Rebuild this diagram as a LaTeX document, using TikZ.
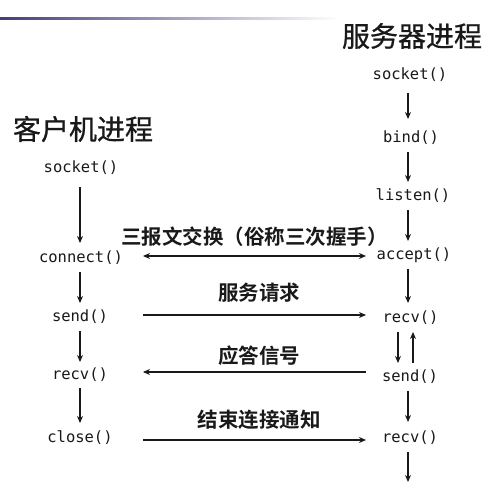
\documentclass[tikz,border=0pt]{standalone}
\usepackage{fontspec}
\newfontfamily\cjk{Noto Sans CJK SC}[FakeBold=0.8]
\newfontfamily\cjkb{Noto Sans CJK SC Bold}
\newfontfamily\mono{DejaVu Sans Mono}
\usetikzlibrary{arrows.meta,calc}
\definecolor{barpurple}{HTML}{4A3A7E}
\tikzset{
  fn/.style={inner sep=0pt, font=\mono\fontsize{15.5}{18}\selectfont, text=black!90},
  head/.style={inner sep=0pt, font=\cjk\fontsize{28}{32}\selectfont, text=black!90},
  lab/.style={inner sep=0pt, font=\cjkb\fontsize{20.5}{24}\selectfont, text=black!90},
  arr/.style={-{Stealth[length=7pt,width=6pt]}, line width=1.4pt, black!90},
  darr/.style={{Stealth[length=7pt,width=6pt]}-{Stealth[length=7pt,width=6pt]}, line width=1.4pt, black!90}
}
\begin{document}
\begin{tikzpicture}[x=1pt,y=-1pt]
\useasboundingbox (0,0) rectangle (501,494);
\fill[white] (0,0) rectangle (501,494);
\shade[left color=barpurple, right color=white] (0,18) rectangle (340,20);

% headings
\node[head] (hs) at (412,36) {服务器进程};
\node[head] (hc) at (83,129) {客户机进程};

% client column
\node[fn] (cs) at (81,168) {socket()};
\node[fn] (cc) at (81,258) {connect()};
\node[fn] (csd) at (80,317) {send()};
\node[fn] (crv) at (80,375) {recv()};
\node[fn] (ccl) at (80,438) {close()};

% server column
\coordinate (sx) at (408,0);
\node[fn] (ss) at (410,75) {socket()};
\node[fn] (sb) at (411,138) {bind()};
\node[fn] (sl) at (413,196) {listen()};
\node[fn] (sa) at (414,255) {accept()};
\node[fn] (sr) at (410.5,318) {recv()};
\node[fn] (ssd) at (410,377) {send()};
\node[fn] (sr2) at (410,438) {recv()};
\coordinate (send) at (408,482);

% client vertical arrows
\draw[arr] ($(cs.center)+(-1,19)$) -- ($(cc.center)+(-1,-15)$);
\draw[arr] ($(cc.center)+(-1,14)$) -- ($(csd.center)+(0,-14)$);
\draw[arr] ($(csd.center)+(0,14)$) -- ($(crv.center)+(0,-13)$);
\draw[arr] ($(crv.center)+(0,13)$) -- ($(ccl.center)+(0,-15)$);

% server vertical arrows
\draw[arr] ($(ss.center -| sx)+(0,18)$) -- ($(sb.center -| sx)+(0,-19)$);
\draw[arr] ($(sb.center -| sx)+(0,14)$) -- ($(sl.center -| sx)+(0,-14)$);
\draw[arr] ($(sl.center -| sx)+(0,14)$) -- ($(sa.center -| sx)+(0,-14)$);
\draw[arr] ($(sa.center -| sx)+(0,14)$) -- ($(sr.center -| sx)+(0,-15)$);
\draw[arr] ($(sr.center -| sx)+(-10,14)$) -- ($(ssd.center -| sx)+(-10,-14)$);
\draw[arr] ($(ssd.center -| sx)+(5,-14)$) -- ($(sr.center -| sx)+(5,14)$);
\draw[arr] ($(ssd.center -| sx)+(0,14)$) -- ($(sr2.center -| sx)+(0,-16)$);
\draw[arr] ($(sr2.center -| sx)+(0,14)$) -- (send);

% horizontal arrows
\coordinate (L) at (143,0);
\coordinate (R) at (366,0);
\draw[darr] ($(L |- cc.center)+(0,-2)$) -- ($(R |- cc.center)+(0,-2)$);
\draw[arr] ($(L |- csd.center)+(0,-2)$) -- ($(R |- csd.center)+(0,-2)$);
\draw[arr] ($(R |- crv.center)+(0,-3)$) -- ($(L |- crv.center)+(0,-3)$);
\draw[arr] ($(L |- ccl.center)+(0,2)$) -- ($(R |- ccl.center)+(0,2)$);

% labels
\node[lab] (l1) at (254.5,237) {三报文交换（俗称三次握手）};
\node[lab] (l2) at (259,293) {服务请求};
\node[lab] (l3) at (259,356) {应答信号};
\node[lab] (l4) at (259,420) {结束连接通知};
\end{tikzpicture}
\end{document}
